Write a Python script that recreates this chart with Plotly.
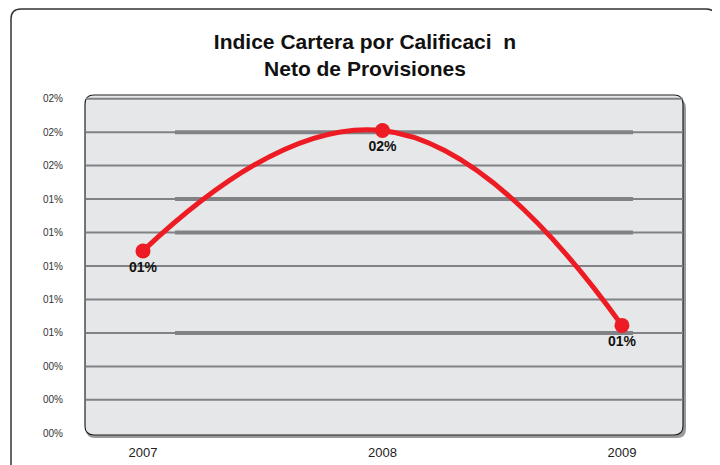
import plotly.graph_objects as go

years = ["2007", "2008", "2009"]
values = [1.09, 1.81, 0.645]  # percent
y_ticks = [0.0, 0.2, 0.4, 0.6, 0.8, 1.0, 1.2, 1.4, 1.6, 1.8, 2.0]
y_tick_labels = [f"{round(v):02d}%" for v in y_ticks]
point_labels = [f"{round(v):02d}%" for v in values]
thick_levels = [1.8, 1.4, 1.2, 0.6]

OFF = 8  # page body margin
W, H = 720 - OFF, 465 - OFF
SL, SR, ST, SB = 86, 683, 97, 435
L, R, T, B = SL - OFF, SR - OFF, ST - OFF, SB - OFF

def px(x):
    return (x - SL) / (SR - SL)

def py(y):
    return (SB - y) / (SB - ST)

def rounded_path(x0, y0, x1, y1, r):
    pts = [
        f"M {px(x0 + r)},{py(y0)}",
        f"L {px(x1 - r)},{py(y0)}",
        f"Q {px(x1)},{py(y0)} {px(x1)},{py(y0 + r)}",
        f"L {px(x1)},{py(y1 - r)}",
        f"Q {px(x1)},{py(y1)} {px(x1 - r)},{py(y1)}",
        f"L {px(x0 + r)},{py(y1)}",
        f"Q {px(x0)},{py(y1)} {px(x0)},{py(y1 - r)}",
        f"L {px(x0)},{py(y0 + r)}",
        f"Q {px(x0)},{py(y0)} {px(x0 + r)},{py(y0)}",
        "Z",
    ]
    return " ".join(pts)

fig = go.Figure()

fig.add_trace(go.Scatter(
    x=years, y=values, mode="lines+markers+text",
    line=dict(color="#ed1c24", width=5, shape="spline", smoothing=1.3),
    marker=dict(color="#ed1c24", size=15),
    text=point_labels, textposition="bottom center",
    textfont=dict(family="Liberation Sans, Arial", size=14, color="#111"),
    texttemplate="<b>%{text}</b>",
    cliponaxis=False, hoverinfo="skip",
))

shapes = []
shapes.append(dict(type="path", xref="paper", yref="paper", layer="below",
                   path=rounded_path(11, 9, 716, 480, 10),
                   line=dict(color="#333", width=1.5), fillcolor="white"))
shapes.append(dict(type="path", xref="paper", yref="paper", layer="below",
                   path=rounded_path(86, 99, 686, 438, 9),
                   line=dict(color="#888", width=0), fillcolor="#9a9a9a"))
shapes.append(dict(type="path", xref="paper", yref="paper", layer="below",
                   path=rounded_path(85, 95, 683, 435, 9),
                   line=dict(color="#222", width=1.2), fillcolor="#e6e7e8"))
for v in y_ticks[1:]:
    shapes.append(dict(type="line", xref="paper", yref="y", layer="below",
                       x0=px(86), x1=px(683), y0=v, y1=v,
                       line=dict(color="#808285", width=2)))
for v in thick_levels:
    shapes.append(dict(type="line", xref="paper", yref="y", layer="below",
                       x0=px(175), x1=px(633), y0=v, y1=v,
                       line=dict(color="#808285", width=4)))

fig.update_layout(
    width=W, height=H,
    margin=dict(l=L, r=W - R, t=T, b=H - B, autoexpand=False),
    paper_bgcolor="white", plot_bgcolor="rgba(0,0,0,0)",
    showlegend=False,
    title=dict(text="<b>Indice Cartera por Calificaci\u00a0\u00a0n<br>Neto de Provisiones</b>",
               x=(365 - OFF) / W, xanchor="center", y=1 - (49 - OFF) / H, yanchor="middle",
               font=dict(family="Liberation Sans, Arial", size=21, color="#111")),
    shapes=shapes,
    xaxis=dict(type="category", range=[-0.238, 2.255], showgrid=False, zeroline=False,
               showline=False, ticks="", automargin=False,
               tickfont=dict(family="Liberation Sans, Arial", size=13, color="#222"),
               ticklabelstandoff=8),
    yaxis=dict(range=[-0.01, 2.01], tickvals=y_ticks, ticktext=y_tick_labels,
               showgrid=False, zeroline=False, showline=False, ticks="", automargin=False,
               tickfont=dict(family="Liberation Sans, Arial", size=10, color="#333"),
               ticklabelstandoff=22),
)

fig.write_html("out.html")
